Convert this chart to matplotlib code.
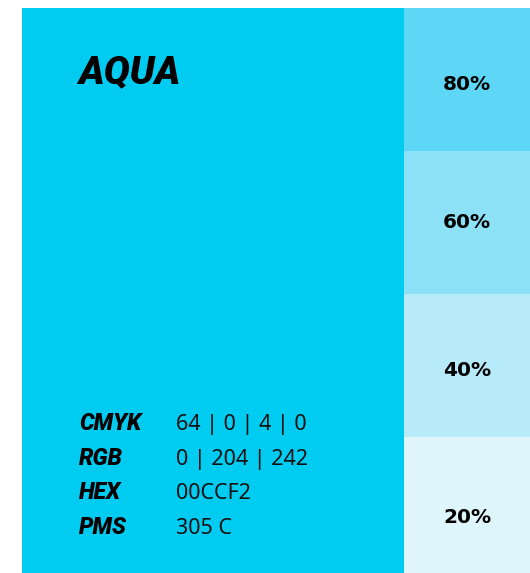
import matplotlib.pyplot as plt

# swatch data
color_name = 'AQUA'
base_color = '#00CCF2'
tint_labels = ['80%', '60%', '40%', '20%']
tint_colors = ['#5DD7F5', '#8DE1F6', '#B8EBF9', '#DFF5FC']
spec_keys = ['CMYK', 'RGB', 'HEX', 'PMS']
spec_values = ['64 | 0 | 4 | 0', '0 | 204 | 242', '00CCF2', '305 C']

W, H = 530, 573
fig = plt.figure(figsize=(W / 100, H / 100), dpi=100)
ax = fig.add_axes([0, 0, 1, 1])
ax.set_xlim(0, W)
ax.set_ylim(H, 0)
ax.axis('off')

top, bottom = 8, 580
left, split, right = 22, 404, 530

# main block
ax.bar(left, bottom - top, width=split - left, bottom=top, align='edge',
       color=base_color, linewidth=0)

# tint strips
step = (bottom - top) / len(tint_labels)
for i, (lab, col) in enumerate(zip(tint_labels, tint_colors)):
    y0 = top + i * step
    ax.bar(split, step, width=right - split, bottom=y0, align='edge',
           color=col, linewidth=0)
ty = [90, 228, 376, 523]
for lab, y in zip(tint_labels, ty):
    ax.text(467, y, lab, ha='center', va='baseline', fontsize=14.5,
            fontweight='heavy', family='DejaVu Sans', color='black')

ax.text(78, 83, color_name, ha='left', va='baseline', fontsize=28,
        fontweight='black', fontstyle='italic', family='Roboto', color='black')

rows_y = [430, 465, 499, 534]
for k, v, y in zip(spec_keys, spec_values, rows_y):
    ax.text(79, y, k, ha='left', va='baseline', fontsize=16.5,
            fontweight='black', fontstyle='italic', family='Roboto', color='black')
    ax.text(176, y, v, ha='left', va='baseline', fontsize=15.5,
            fontweight='light', family='Noto Sans', color='#111111')

fig.savefig('out.png', dpi=100)
